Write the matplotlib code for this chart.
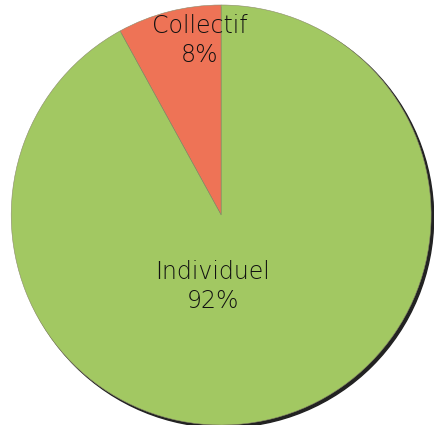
import matplotlib.pyplot as plt
from matplotlib.patches import Circle

# data
labels = ['Collectif', 'Individuel']
shares = [8, 92]
colors = ['#EE7356', '#A2C862']

fig = plt.figure(figsize=(4.35, 4.25), dpi=100)
ax = fig.add_axes([0, 0, 1, 1])

cx, cy, r = 0.0, 0.0, 1.0

# dark shadow on the lower right
ax.add_patch(Circle((cx + 0.012, cy - 0.012), r, color='#222222', zorder=0))

wedges, _ = ax.pie(shares, colors=colors, startangle=90, counterclock=True,
                   radius=r, center=(cx, cy),
                   wedgeprops=dict(linewidth=0.4, edgecolor='#8a8a6a'))
for w in wedges:
    w.set_zorder(1)

# label positions (relative to the pie)
label_pos = [(-0.101, 0.83), (-0.039, -0.34)]
for lab, val, (x, y) in zip(labels, shares, label_pos):
    ax.text(x, y, f'{lab}\n{val}%', ha='center', va='center',
            fontsize=17, family='DejaVu Sans', fontweight='light',
            color='#111111', linespacing=1.25, zorder=3)

ax.set_xlim(-1.0535, 1.0185)
ax.set_ylim(-1.0, 1.0238)
ax.set_aspect('auto')
ax.axis('off')

fig.savefig('out.png', dpi=100, facecolor='white')
